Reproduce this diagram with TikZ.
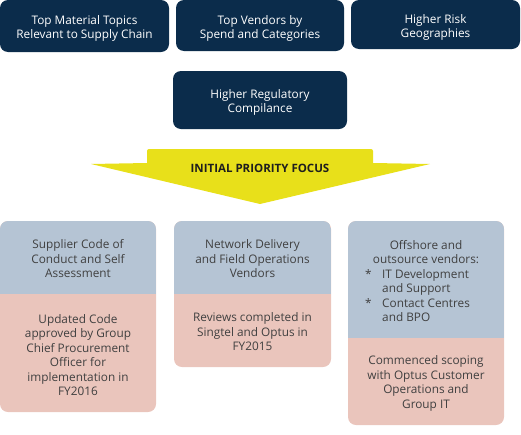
\documentclass[tikz,border=0pt]{standalone}
\usepackage{fontspec}
\setmainfont{Open Sans}
\definecolor{navy}{HTML}{0B2C4B}
\definecolor{topblue}{HTML}{B5C4D4}
\definecolor{pinkc}{HTML}{EAC5BC}
\definecolor{yel}{HTML}{E8E01A}
\definecolor{txt}{HTML}{404040}
\definecolor{headtxt}{HTML}{1E1E1E}
\newcommand{\splitbg}[5]{%
  \fill[pinkc, rounded corners=8pt] (#1,#2) rectangle (#3,#4);
  \begin{scope}
    \clip[rounded corners=8pt] (#1,#2) rectangle (#3,#4);
    \fill[topblue] (#1,#2) rectangle (#3,#5);
  \end{scope}}
\begin{document}
\begin{tikzpicture}[x=1pt,y=-1pt,
  navybox/.style={fill=navy, rounded corners=8pt, inner sep=0pt},
  navytext/.style={text=white, align=center, font=\fontsize{11.8}{14}\selectfont, inner sep=0pt},
  celltext/.style={text=txt, align=center, font=\fontsize{11.8}{14.5}\selectfont, inner sep=0pt},
  headtext/.style={text=headtxt, font=\bfseries\fontsize{11.5}{13}\selectfont, inner sep=0pt}]
\useasboundingbox (0,0) rectangle (521,434);
% top navy boxes
\node[navybox, minimum width=169pt, minimum height=52pt] (t1) at (84.5,26) {};
\node[navytext] (t1t) at (84.5,28) {Top Material Topics\\Relevant to Supply Chain};
\node[navybox, minimum width=168pt, minimum height=51pt] (t2) at (260,25.5) {};
\node[navytext] (t2t) at (260,28) {Top Vendors by\\Spend and Categories};
\node[navybox, minimum width=169pt, minimum height=49pt] (t3) at (435.5,24.5) {};
\node[navytext] (t3t) at (435.5,27) {Higher Risk\\Geographies};
\node[navybox, minimum width=174pt, minimum height=58pt] (t4) at (260,100) {};
\node[navytext] (t4t) at (260,102.5) {Higher Regulatory\\Compilance};
% arrow
\fill[yel] (147,152) [rounded corners=2pt] -- (147,149) -- (373,149) [sharp corners] -- (373,163) -- (430,164) -- (260,204) -- (91,164) -- (147,163) -- cycle;
\node[headtext] (focus) at (260,168.5) {INITIAL PRIORITY FOCUS};
% bottom boxes
\splitbg{0}{221}{156}{412}{294}
\splitbg{174}{221}{331}{367}{294}
\splitbg{348}{221}{504}{425}{338}
\node[celltext] (a1) at (78,259) {Supplier Code of\\Conduct and Self\\Assessment};
\node[celltext] (a2) at (78,355) {Updated Code\\approved by Group\\Chief Procurement\\Officer for\\implementation in\\FY2016};
\node[celltext] (b1) at (252.5,259) {Network Delivery\\and Field Operations\\Vendors};
\node[celltext] (b2) at (252.5,332) {Reviews completed in\\Singtel and Optus in\\FY2015};
\node[celltext] (c1) at (426,252) {Offshore and\\outsource vendors:};
\node[celltext, align=left, anchor=west] (c1list) at (365,295.5) {\makebox[17pt][l]{*}IT Development\\\makebox[17pt][l]{}and Support\\\makebox[17pt][l]{*}Contact Centres\\\makebox[17pt][l]{}and BPO};
\node[celltext] (c2) at (426,383.5) {Commenced scoping\\with Optus Customer\\Operations and\\Group IT};
\end{tikzpicture}
\end{document}
